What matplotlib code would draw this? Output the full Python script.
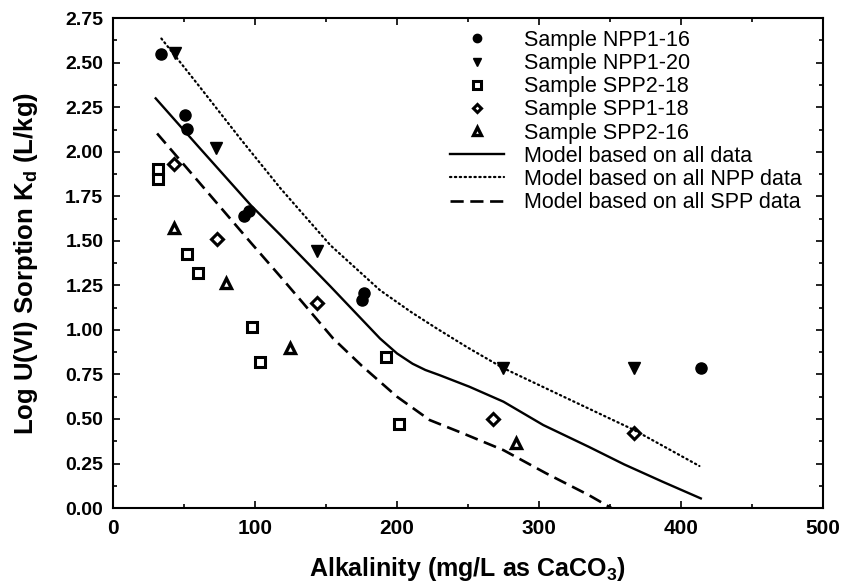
import numpy as np
import matplotlib
matplotlib.use('Agg')
import matplotlib.pyplot as plt
from matplotlib.ticker import MultipleLocator

plt.rcParams['font.family'] = ['Liberation Sans', 'DejaVu Sans']
plt.rcParams['mathtext.fontset'] = 'custom'
plt.rcParams['mathtext.rm'] = 'Liberation Sans:bold'
plt.rcParams['mathtext.bf'] = 'Liberation Sans:bold'

# measured samples
npp1_16_x = [33.7, 50.7, 52.4, 92, 95.5, 175, 177, 413.8]
npp1_16_y = [2.55, 2.205, 2.13, 1.64, 1.67, 1.17, 1.21, 0.786]

npp1_20_x = [43.5, 72.3, 143.9, 275, 367]
npp1_20_y = [2.555, 2.02, 1.444, 0.784, 0.786]

spp2_18_x = [31.4, 31.4, 51.9, 59.9, 98, 103.4, 192.3, 201.6]
spp2_18_y = [1.906, 1.845, 1.424, 1.317, 1.017, 0.821, 0.849, 0.471]

spp1_18_x = [42.6, 73.5, 143.6, 267.6, 367]
spp1_18_y = [1.934, 1.51, 1.149, 0.498, 0.423]

spp2_16_x = [42.6, 79.3, 124.4, 283.5]
spp2_16_y = [1.57, 1.261, 0.896, 0.363]

# model curves
all_x = [30, 60, 97, 118, 153, 188, 200, 211, 220, 230, 251, 275, 303, 335, 360, 387, 414]
all_y = [2.30, 2.03, 1.70, 1.532, 1.245, 0.952, 0.868, 0.81, 0.775, 0.746, 0.681, 0.597,
         0.466, 0.344, 0.245, 0.148, 0.054]

npp_x = [34, 60, 90, 118, 153, 188, 210, 228, 250, 275, 320, 367, 413]
npp_y = [2.636, 2.375, 2.07, 1.794, 1.476, 1.223, 1.10, 1.008, 0.90, 0.785, 0.615,
         0.438, 0.236]

spp_x = [31, 60, 97, 118, 134, 155, 175, 200, 223, 246.5, 275, 305, 335, 351]
spp_y = [2.103, 1.834, 1.49, 1.298, 1.149, 0.952, 0.80, 0.625, 0.494, 0.419, 0.325,
         0.195, 0.073, 0.0]

fig = plt.figure(figsize=(8.44, 5.88), dpi=100)
ax = fig.add_axes([0.134, 0.136, 0.841, 0.833])

ms = 8
ax.plot(npp1_16_x, npp1_16_y, 'o', color='black', ms=ms, label='Sample NPP1-16')
ax.plot(npp1_20_x, npp1_20_y, 'v', color='black', ms=ms, label='Sample NPP1-20')
ax.plot(spp2_18_x, spp2_18_y, 's', mfc='white', mec='black', mew=2.2, ms=7.5,
        label='Sample SPP2-18')
ax.plot(spp1_18_x, spp1_18_y, 'D', mfc='white', mec='black', mew=2.2, ms=6,
        label='Sample SPP1-18')
ax.plot(spp2_16_x, spp2_16_y, '^', mfc='white', mec='black', mew=2.4, ms=7.5,
        label='Sample SPP2-16')

ax.plot(all_x, all_y, '-', color='black', lw=1.7, label='Model based on all data')
ax.plot(npp_x, npp_y, color='black', lw=1.6, linestyle=(0, (0.6, 1.6)),
        dash_capstyle='round', label='Model based on all NPP data')
ax.plot(spp_x, spp_y, color='black', lw=1.9, linestyle=(0, (5, 2.5)),
        label='Model based on all SPP data')

ax.set_xlim(0, 500)
ax.set_ylim(0, 2.75)
ax.xaxis.set_major_locator(MultipleLocator(100))
ax.xaxis.set_minor_locator(MultipleLocator(50))
ax.yaxis.set_major_locator(MultipleLocator(0.25))
ax.yaxis.set_minor_locator(MultipleLocator(0.125))
ax.yaxis.set_major_formatter(plt.FormatStrFormatter('%.2f'))

ax.tick_params(which='both', direction='in', top=True, right=True, width=1.2)
ax.tick_params(which='major', length=5, pad=7)
ax.tick_params(axis='y', which='major', labelsize=14)
ax.tick_params(axis='x', which='major', labelsize=15, pad=8)
ax.tick_params(which='minor', length=3)
for lab in ax.get_xticklabels() + ax.get_yticklabels():
    lab.set_fontweight('bold')
for sp in ax.spines.values():
    sp.set_linewidth(1.5)

ax.set_xlabel('Alkalinity (mg/L as CaCO$_3$)', fontsize=18, fontweight='bold',
              labelpad=12)
ax.set_ylabel('Log U(VI) Sorption K$_\\mathrm{d}$ (L/kg)', fontsize=18.5, fontweight='bold',
              labelpad=18)

ax.legend(loc='upper left', bbox_to_anchor=(0.474, 0.976), frameon=False, fontsize=15.5,
          labelspacing=0.1, handlelength=2.55, handletextpad=0.9, markerscale=0.75,
          borderpad=0, borderaxespad=0)

fig.savefig('out.png', dpi=100)
